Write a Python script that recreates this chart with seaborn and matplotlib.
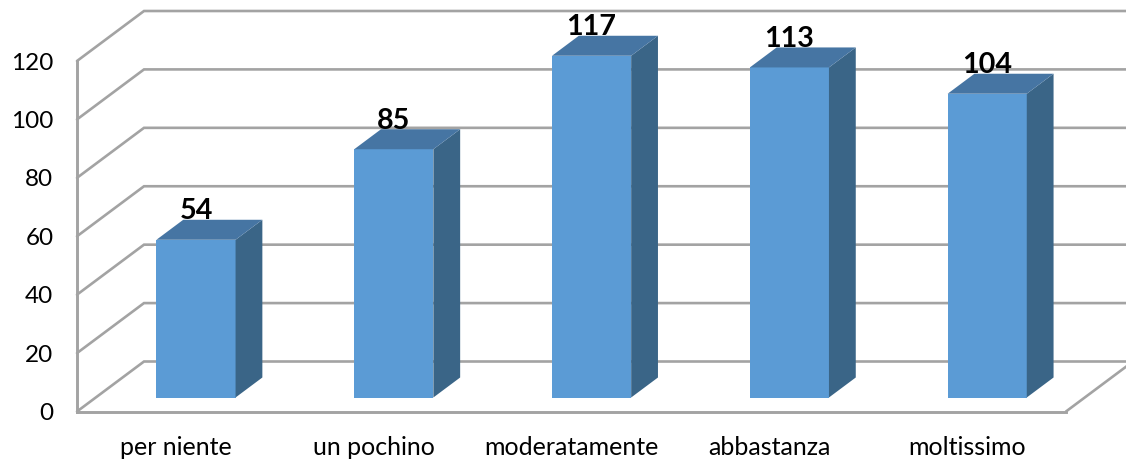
import matplotlib
matplotlib.use('Agg')
import matplotlib.pyplot as plt
from matplotlib.patches import Polygon
import seaborn as sns

# Dati
categorie = ['per niente', 'un pochino', 'moderatamente', 'abbastanza', 'moltissimo']
valori = [54, 85, 117, 113, 104]
tick_y = [0, 20, 40, 60, 80, 100, 120]

sns.set_theme(style='white')
plt.rcParams['font.family'] = ['Lato', 'DejaVu Sans']

GRIGIO = '#a3a3a3'
FRONTE = '#5b9bd5'
LATO = '#3a6587'
SOPRA = '#4675a3'

fig = plt.figure(figsize=(11.26, 4.63), dpi=100)
# gli assi sono il piano frontale del finto 3D
ax = fig.add_axes([77 / 1126, (463 - 411.5) / 463, 989 / 1126, 350.5 / 463])

# profondita in unita dati (67 px e 50 px)
dx = 67 / (989 / 5)
dy = 50 / (350.5 / 120)

sns.barplot(x=categorie, y=valori, color=FRONTE, saturation=1, width=0.4, ax=ax, zorder=3)
ax.set_xlim(-0.5, 4.5)
ax.set_ylim(0, 120)

# griglia: diagonale sulla parete sinistra, poi orizzontale sul fondo
for v in tick_y:
    ax.plot([-0.5, -0.5 + dx, 4.5 + dx], [v, v + dy, v + dy], color=GRIGIO, lw=1.9,
            clip_on=False, zorder=1, solid_joinstyle='miter')
ax.plot([4.5, 4.5 + dx], [0, dy], color=GRIGIO, lw=1.9, clip_on=False, zorder=1)

# sposta le barre nel mezzo della profondita e aggiunge lato e cima
inizio_x = 0.30
inizio_y = 0.28
prof = 0.4
for barra in ax.containers[0]:
    x0 = barra.get_x()
    w = barra.get_width()
    h = barra.get_height()
    barra.set_x(x0 + inizio_x * dx)
    barra.set_y(inizio_y * dy)
    barra.set_linewidth(0)
    barra.set_clip_on(False)
    xs, ys = x0 + inizio_x * dx, inizio_y * dy
    px, py = prof * dx, prof * dy
    ax.add_patch(Polygon([(xs + w, ys), (xs + w + px, ys + py), (xs + w + px, ys + h + py), (xs + w, ys + h)],
                         facecolor=LATO, edgecolor='none', clip_on=False, zorder=3))
    ax.add_patch(Polygon([(xs, ys + h), (xs + w, ys + h), (xs + w + px, ys + h + py), (xs + px, ys + h + py)],
                         facecolor=SOPRA, edgecolor='none', clip_on=False, zorder=3))

ax.bar_label(ax.containers[0], labels=[str(v) for v in valori], padding=11, fontsize=20.7,
             fontweight='bold', color='black', zorder=5, clip_on=False, annotation_clip=False)

ax.set_yticks(tick_y)
ax.set_xticks(range(len(categorie)))
ax.set_xticklabels(categorie)
ax.tick_params(axis='both', length=0, colors='black')
ax.tick_params(axis='x', pad=17.5, labelsize=18)
ax.tick_params(axis='y', pad=17, labelsize=17.5)

sns.despine(ax=ax, top=True, right=True)
for lato in ['left', 'bottom']:
    ax.spines[lato].set_color(GRIGIO)
    ax.spines[lato].set_linewidth(2.1)
    ax.spines[lato].set_zorder(2)

fig.savefig('out.png', dpi=100)
